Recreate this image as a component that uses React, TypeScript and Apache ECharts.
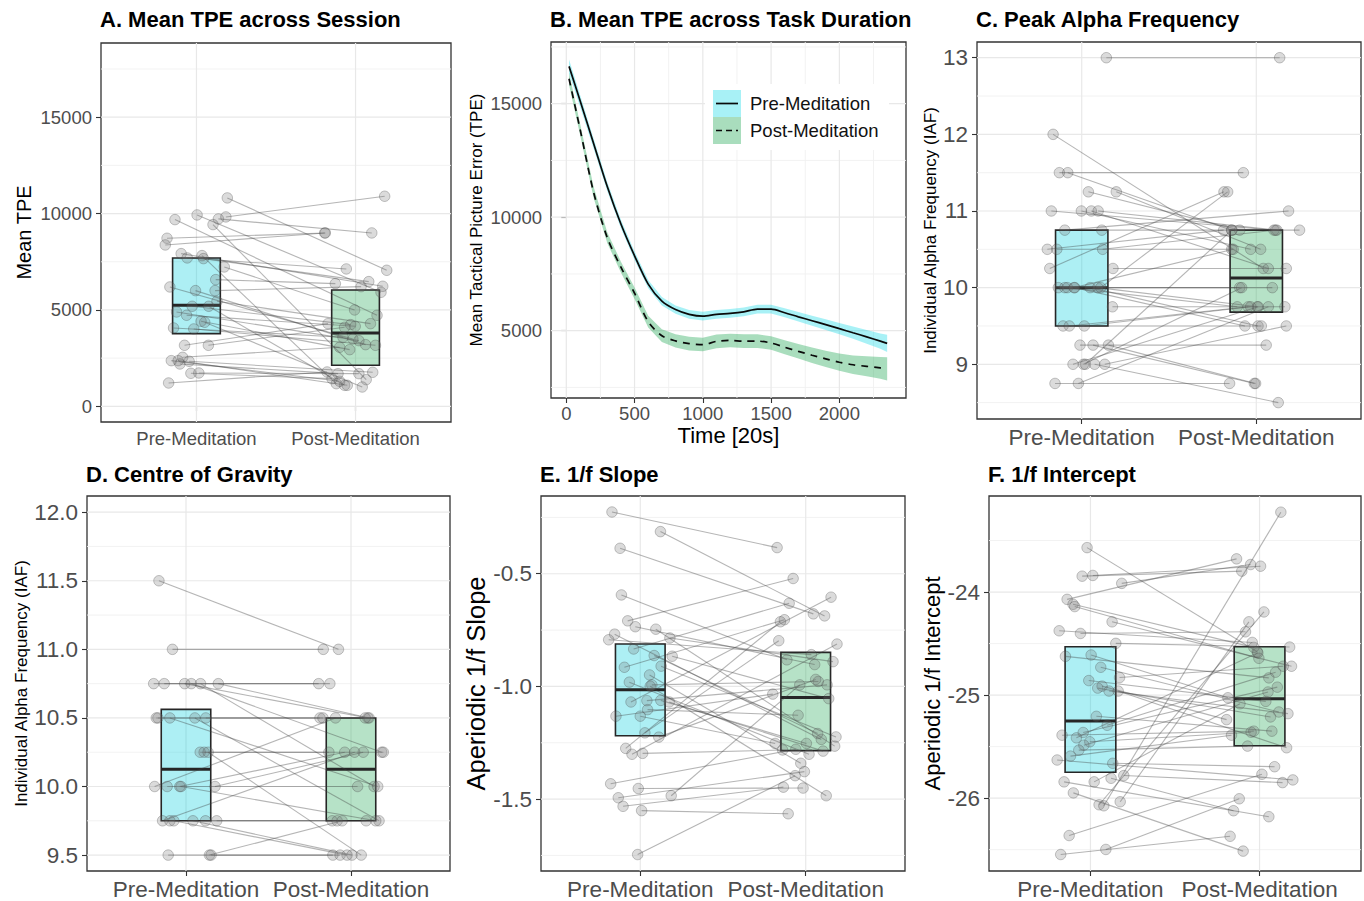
import React, { useEffect, useRef } from 'react';
import * as echarts from 'echarts';

// ---------- shared categories ----------
const SESSIONS = ['Pre-Meditation', 'Post-Meditation'];

// ---------- Panel A: Mean TPE across Session ----------
const aPre = [10813, 9688, 9930, 9723, 9826, 9429, 8719, 8373, 7923, 7699, 7820, 7664, 7231, 6574, 6193, 6003, 6003, 5190, 5190, 5450, 4896, 4723, 4412, 4360, 4066, 4014, 3166, 3166, 2370, 2543, 2370, 2197, 2336, 1713, 1730, 1211];
const aPreX = [1.194, 0.865, 1.004, 1.138, 1.185, 1.104, 0.815, 0.804, 0.904, 0.942, 1.035, 1.044, 1.175, 1.121, 0.833, 0.994, 1.117, 0.973, 1.077, 1.129, 0.875, 0.938, 1.029, 1.052, 0.856, 0.983, 0.925, 1.075, 0.842, 0.913, 0.885, 0.896, 0.954, 0.965, 1.015, 0.825];
const aPost = [7058, 4723, 5917, 8996, 10899, 1384, 8996, 8996, 6228, 7128, 1176, 6470, 5000, 6366, 3495, 3201, 6211, 4239, 1090, 4290, 3408, 4152, 2941, 1003, 3581, 3166, 4290, 4100, 1300, 3062, 1090, 1695, 1765, 1436, 1695, 1782];
const aPostX = [2.196, 2.135, 2.16, 2.102, 2.183, 2.067, 1.806, 1.81, 2.171, 1.942, 1.879, 2.083, 1.994, 1.873, 1.983, 2.063, 2.035, 1.969, 1.931, 2.094, 2.021, 1.998, 1.963, 2.042, 1.921, 2.125, 1.827, 1.931, 1.9, 1.9, 1.948, 1.89, 2.108, 1.852, 2.021, 1.821];
const aBoxPre = [3771, 5242, 7699]; // q1, median, q3
const aBoxPost = [2128, 3806, 6038];
const aTicks = [0, 5000, 10000, 15000];
const aMinor = [2500, 7500, 12500, 17500];

// ---------- Panel B: Mean TPE across Task Duration ----------
const timeB = [20, 100, 200, 300, 400, 500, 600, 700, 800, 900, 1000, 1100, 1200, 1300, 1400, 1500, 1600, 1700, 1800, 1900, 2000, 2100, 2200, 2300, 2350];
const preMeanB = [16644, 15150, 13250, 11350, 9700, 8300, 7050, 6300, 5930, 5720, 5640, 5720, 5760, 5830, 5950, 5950, 5790, 5610, 5440, 5270, 5090, 4910, 4730, 4540, 4440];
const preSEB = [300, 260, 220, 200, 190, 185, 185, 185, 185, 190, 195, 195, 195, 195, 195, 195, 200, 210, 220, 235, 250, 270, 300, 340, 380];
const postMeanB = [16100, 13900, 11100, 9100, 7800, 6650, 5400, 4780, 4550, 4430, 4390, 4530, 4570, 4540, 4540, 4460, 4270, 4090, 3920, 3760, 3610, 3500, 3430, 3360, 3320];
const postSEB = [260, 250, 240, 240, 240, 250, 260, 280, 290, 300, 300, 300, 300, 300, 300, 300, 310, 320, 340, 360, 380, 410, 440, 480, 510];
const bXTicks = [0, 500, 1000, 1500, 2000];
const bXMinor = [250, 750, 1250, 1750, 2250];
const bYTicks = [5000, 10000, 15000];
const bYMinor = [2500, 7500, 12500, 17500];

// ---------- Panel C: Peak Alpha Frequency ----------
const cPre = [13, 12, 11.5, 11.5, 11.25, 11.25, 11, 11, 11, 11, 10.75, 10.75, 10.5, 10.5, 10.5, 10.25, 10.25, 10, 10, 10, 10, 10, 10, 10, 10, 9.75, 9.5, 9.5, 9.5, 9.25, 9.25, 9.25, 9, 9, 9, 9, 9, 8.75, 8.75];
const cPreX = [1.141, 0.836, 0.872, 0.92, 1.038, 1.198, 0.826, 0.998, 1.055, 1.094, 0.903, 1.115, 0.803, 0.857, 1.12, 0.817, 1.179, 0.866, 0.903, 0.918, 0.96, 1.048, 1.092, 1.109, 0.956, 1.176, 0.893, 0.929, 1.015, 0.99, 1.065, 1.153, 0.95, 1.01, 1.021, 1.074, 1.132, 0.847, 0.981];
const cPost = [13, 10.25, 11.5, 10.75, 10.75, 10.5, 10.75, 10.5, 10.25, 10.75, 11, 10.75, 10.75, 10.5, 10.75, 11.25, 10.25, 10, 10, 9.75, 9.5, 9.5, 9.75, 11.25, 10.5, 9.75, 9.5, 9.75, 9.75, 9.25, 8.75, 8.75, 9.75, 10, 10.75, 8.5, 9.5, 8.75, 9.75];
const cPostX = [2.134, 2.04, 1.926, 1.859, 1.905, 2.025, 2.101, 1.968, 2.069, 2.118, 2.185, 2.248, 1.813, 1.859, 2.11, 1.815, 2.172, 1.905, 2.092, 1.891, 1.935, 2.01, 2.006, 1.836, 1.868, 2.164, 2.029, 1.954, 1.968, 2.057, 1.989, 1.996, 2.011, 1.916, 1.86, 2.126, 2.172, 1.847, 2.069];
const cBoxPre = [9.5, 10, 10.75];
const cBoxPost = [9.68, 10.125, 10.75];
const cTicks = [9, 10, 11, 12, 13];
const cMinor = [8.5, 9.5, 10.5, 11.5, 12.5];

// ---------- Panel D: Centre of Gravity ----------
const dPre = [11.5, 11, 10.75, 10.75, 10.75, 10.75, 10.75, 10.75, 10.5, 10.5, 10.5, 10.5, 10.5, 10.25, 10.25, 10.25, 10, 10, 10, 10, 10, 9.75, 9.75, 9.75, 9.75, 9.75, 9.75, 9.5, 9.5, 9.5];
const dPreX = [0.836, 0.918, 0.804, 0.868, 0.992, 1.032, 1.088, 1.196, 0.82, 0.83, 0.902, 1.054, 1.12, 1.086, 1.11, 1.134, 0.81, 0.886, 0.962, 0.97, 1.176, 0.858, 0.902, 0.926, 1.042, 1.118, 1.186, 0.892, 1.142, 1.152];
const dPost = [11, 11, 10.75, 10.75, 10.5, 10.25, 10, 10.5, 10.5, 10.5, 10, 9.75, 10.5, 10.25, 10.25, 9.5, 10.5, 10, 10.25, 9.75, 10.25, 10.25, 9.75, 9.5, 9.5, 9.75, 9.75, 9.5, 9.75, 9.5];
const dPostX = [1.924, 1.832, 1.804, 1.872, 2.102, 2.186, 2.14, 2.11, 1.812, 1.83, 2.162, 2.17, 2.086, 1.866, 2.196, 2.062, 1.906, 2.04, 1.962, 2.15, 2.074, 2.022, 1.886, 1.976, 2.006, 1.916, 2.092, 1.89, 1.946, 1.934];
const dBoxPre = [9.75, 10.125, 10.5625];
const dBoxPost = [9.75, 10.125, 10.5];
const dTicks = [9.5, 10, 10.5, 11, 11.5, 12];
const dMinor = [9.75, 10.25, 10.75, 11.25, 11.75];

// ---------- Panel E: 1/f Slope ----------
const ePre = [-0.226, -0.313, -0.387, -0.594, -0.709, -0.735, -0.746, -0.768, -0.793, -0.785, -0.834, -0.863, -0.866, -0.915, -0.91, -0.949, -0.981, -0.993, -0.999, -1.069, -1.063, -1.062, -1.069, -1.103, -1.132, -1.132, -1.206, -1.225, -1.275, -1.301, -1.297, -1.432, -1.453, -1.485, -1.494, -1.532, -1.551, -1.746];
const ePreX = [0.829, 1.122, 0.878, 0.886, 0.924, 0.97, 1.094, 0.845, 0.809, 1.179, 0.96, 1.084, 1.193, 0.904, 1.126, 1.056, 0.934, 1.07, 1.06, 0.944, 1.04, 1.124, 1.175, 1.044, 0.853, 1.0, 1.028, 1.112, 0.912, 0.95, 1.014, 0.821, 0.988, 1.187, 0.867, 0.896, 1.008, 0.984];
const ePost = [-0.384, -0.687, -0.678, -0.882, -0.521, -0.903, -1.265, -1.235, -0.859, -0.89, -0.631, -1.209, -1.054, -0.704, -1.224, -1.341, -1.301, -0.978, -1.485, -0.604, -0.993, -1.253, -1.287, -1.128, -1.034, -1.253, -0.797, -0.969, -0.713, -0.812, -1.282, -1.279, -1.451, -0.993, -1.378, -1.447, -1.565, -1.396];
const ePostX = [1.827, 2.114, 2.046, 1.886, 1.924, 2.054, 2.175, 2.094, 2.034, 2.165, 1.9, 2.072, 2.139, 1.871, 2.183, 1.97, 2.02, 2.076, 2.124, 2.153, 2.129, 2.004, 2.105, 1.954, 1.801, 1.815, 1.837, 2.06, 1.847, 2.189, 1.86, 1.94, 1.984, 1.964, 1.992, 1.865, 1.894, 1.936];
const eBoxPre = [-1.219, -1.015, -0.812];
const eBoxPost = [-1.285, -1.049, -0.849];
const eTicks = [-1.5, -1.0, -0.5];
const eMinor = [-1.75, -1.25, -0.75, -0.25];

// ---------- Panel F: 1/f Intercept ----------
const fPre = [-23.569, -23.846, -23.839, -23.916, -24.071, -24.119, -24.141, -24.289, -24.376, -24.402, -24.498, -24.624, -24.611, -24.73, -24.83, -24.859, -24.932, -24.913, -24.961, -24.961, -25.206, -25.293, -25.389, -25.363, -25.415, -25.453, -25.486, -25.534, -25.592, -25.63, -25.662, -25.781, -25.807, -25.842, -25.842, -25.949, -26.064, -26.074, -26.035, -26.363, -26.498, -26.547];
const fPreX = [0.98, 0.951, 1.014, 1.185, 0.862, 0.897, 0.907, 1.128, 0.815, 0.941, 1.15, 0.852, 1.004, 1.061, 1.172, 0.99, 1.043, 1.069, 1.11, 1.164, 1.035, 1.099, 0.832, 0.957, 0.917, 0.996, 0.961, 0.931, 0.882, 0.803, 1.132, 1.197, 1.122, 0.844, 1.022, 0.899, 1.051, 1.079, 1.176, 0.874, 1.091, 0.824];
const fPost = [-24.579, -23.797, -23.749, -23.733, -23.678, -24.537, -24.643, -24.72, -24.489, -24.386, -24.534, -24.833, -25.026, -25.164, -24.72, -25.061, -25.212, -25.238, -25.18, -25.511, -25.35, -24.778, -25.35, -24.923, -24.59, -25.36, -24.97, -25.495, -25.389, -25.823, -25.695, -25.849, -26.122, -26.18, -25.084, -26.514, -24.193, -23.225, -24.289, -25.768, -26.006, -26.37];
const fPostX = [1.986, 1.895, 2.006, 1.947, 1.864, 1.966, 1.996, 2.189, 1.957, 1.917, 2.178, 2.055, 1.813, 2.114, 2.14, 2.037, 2.065, 1.805, 2.168, 2.16, 2.073, 2.095, 1.966, 2.105, 1.99, 1.95, 2.05, 1.929, 1.834, 2.197, 2.089, 2.136, 1.846, 2.055, 1.884, 1.903, 2.026, 2.126, 1.937, 2.014, 1.88, 1.826];
const fBoxPre = [-25.749, -25.251, -24.531];
const fBoxPost = [-25.492, -25.035, -24.531];
const fTicks = [-26, -25, -24];
const fMinor = [-26.5, -25.5, -24.5, -23.5];

// ---------- styling ----------
const FONT = '"Liberation Sans", Arial, Helvetica, sans-serif';
const PRE_FILL = 'rgba(0,206,222,0.32)';
const POST_FILL = 'rgba(40,170,90,0.34)';
const PRE_BAND = 'rgba(0,215,228,0.34)';
const POST_BAND = 'rgba(40,170,90,0.40)';
const BOX_HALF = 0.15;

type BoxPanel = {
  title: string; grid: any; titleTop: number;
  yMin: number; yMax: number; ticks: number[]; minor: number[]; dec: number;
  yName: string; yNameSize: number; yNameGap: number; tickSize: number;
  pre: number[]; preX: number[]; post: number[]; postX: number[];
  boxPre: number[]; boxPost: number[]; gridIndex: number;
};

const boxPanels: BoxPanel[] = [
  { title: 'A. Mean TPE across Session', gridIndex: 0, grid: { left: 101, top: 43, width: 350, height: 379 }, titleTop: 8,
    yMin: -813, yMax: 18850, ticks: aTicks, minor: aMinor, dec: 0, yName: 'Mean TPE', yNameSize: 20, yNameGap: 67, tickSize: 18.5,
    pre: aPre, preX: aPreX, post: aPost, postX: aPostX, boxPre: aBoxPre, boxPost: aBoxPost },
  { title: 'C. Peak Alpha Frequency', gridIndex: 2, grid: { left: 977, top: 42, width: 384, height: 377 }, titleTop: 8,
    yMin: 8.286, yMax: 13.205, ticks: cTicks, minor: cMinor, dec: 0, yName: 'Individual Alpha Frequency (IAF)', yNameSize: 17, yNameGap: 37, tickSize: 22.5,
    pre: cPre, preX: cPreX, post: cPost, postX: cPostX, boxPre: cBoxPre, boxPost: cBoxPost },
  { title: 'D. Centre of Gravity', gridIndex: 3, grid: { left: 87, top: 496, width: 363, height: 377 }, titleTop: 463,
    yMin: 9.384, yMax: 12.118, ticks: dTicks, minor: dMinor, dec: 1, yName: 'Individual Alpha Frequency (IAF)', yNameSize: 17, yNameGap: 55, tickSize: 22.5,
    pre: dPre, preX: dPreX, post: dPost, postX: dPostX, boxPre: dBoxPre, boxPost: dBoxPost },
  { title: 'E. 1/f Slope', gridIndex: 4, grid: { left: 541, top: 496, width: 364, height: 377 }, titleTop: 463,
    yMin: -1.819, yMax: -0.155, ticks: eTicks, minor: eMinor, dec: 1, yName: 'Aperiodic 1/f Slope', yNameSize: 25.5, yNameGap: 50, tickSize: 22.5,
    pre: ePre, preX: ePreX, post: ePost, postX: ePostX, boxPre: eBoxPre, boxPost: eBoxPost },
  { title: 'F. 1/f Intercept', gridIndex: 5, grid: { left: 989, top: 496, width: 372, height: 377 }, titleTop: 463,
    yMin: -26.707, yMax: -23.068, ticks: fTicks, minor: fMinor, dec: 0, yName: 'Aperiodic 1/f Intercept', yNameSize: 22, yNameGap: 46, tickSize: 22.5,
    pre: fPre, preX: fPreX, post: fPost, postX: fPostX, boxPre: fBoxPre, boxPost: fBoxPost },
];

const tickStyle = (vals: number[]) => ({ show: true, length: 5, inside: false, customValues: vals, lineStyle: { color: '#333', width: 1.1 } });
const labelStyle = (vals: number[], size: number, margin: number, fmt: (v: number) => string) => ({
  show: true, customValues: vals, color: '#4D4D4D', fontSize: size, fontFamily: FONT, margin, formatter: fmt,
});

function gridLineSeries(gi: number, hMajor: number[], hMinor: number[], vMajor: number[], vMinor: number[], xRef: number, yRef: number) {
  const data = [
    ...hMinor.map((v) => [0, v, 0]),
    ...vMinor.map((v) => [1, v, 0]),
    ...hMajor.map((v) => [0, v, 1]),
    ...vMajor.map((v) => [1, v, 1]),
  ];
  return {
    type: 'custom', xAxisIndex: gi, yAxisIndex: gi, z: 1, silent: true, data,
    renderItem: (params: any, api: any) => {
      const o = api.value(0), v = api.value(1), maj = api.value(2);
      const cs = params.coordSys;
      const style = { stroke: maj ? '#E8E8E8' : '#F1F1F1', lineWidth: maj ? 1.2 : 0.9 };
      if (o === 0) {
        const y = api.coord([xRef, v])[1];
        return { type: 'line', shape: { x1: cs.x, y1: y, x2: cs.x + cs.width, y2: y }, style };
      }
      const x = api.coord([v, yRef])[0];
      return { type: 'line', shape: { x1: x, y1: cs.y, x2: x, y2: cs.y + cs.height }, style };
    },
  };
}

function bandSeries(mean: number[], se: number[], color: string) {
  const rows = timeB.map((t, k) => [t, mean[k] - se[k], mean[k] + se[k]]);
  return {
    type: 'custom', xAxisIndex: 1, yAxisIndex: 1, z: 2, silent: true,
    data: rows, encode: { x: 0, y: [1, 2] },
    renderItem: (params: any, api: any) => {
      if (params.dataIndex !== 0) return null;
      const upper = rows.map((r) => api.coord([r[0], r[2]]));
      const lower = rows.map((r) => api.coord([r[0], r[1]])).reverse();
      return { type: 'polygon', shape: { points: [...upper, ...lower] }, style: { fill: color } };
    },
  };
}

function buildOption() {
  const grids: any[] = new Array(6);
  const xAxes: any[] = new Array(6);
  const yAxes: any[] = new Array(6);
  const titles: any[] = [];
  const series: any[] = [];

  boxPanels.forEach((p) => {
    const gi = p.gridIndex;
    grids[gi] = { ...p.grid, show: true, borderColor: '#333', borderWidth: 1.3, backgroundColor: '#fff' };
    titles.push({ text: p.title, left: p.grid.left - 1, top: p.titleTop, padding: 0,
      textStyle: { fontSize: 22, fontWeight: 'bold', color: '#000', fontFamily: FONT } });
    xAxes[gi] = {
      gridIndex: gi, type: 'value', min: 0.4, max: 2.6,
      axisLine: { show: false }, splitLine: { show: false },
      axisTick: tickStyle([1, 2]),
      axisLabel: labelStyle([1, 2], p.tickSize, 7, (v: number) => SESSIONS[Math.round(v) - 1] || ''),
    };
    yAxes[gi] = {
      gridIndex: gi, type: 'value', min: p.yMin, max: p.yMax,
      name: p.yName, nameLocation: 'middle', nameGap: p.yNameGap,
      nameTextStyle: { fontSize: p.yNameSize, color: '#000', fontFamily: FONT },
      axisLine: { show: false }, splitLine: { show: false },
      axisTick: tickStyle(p.ticks),
      axisLabel: labelStyle(p.ticks, p.tickSize, 9, (v: number) => v.toFixed(p.dec)),
    };
    series.push(gridLineSeries(gi, p.ticks, p.minor, [1, 2], [], 1, p.ticks[0]));
    series.push({
      type: 'custom', xAxisIndex: gi, yAxisIndex: gi, z: 2, silent: true,
      data: [[1, ...p.boxPre], [2, ...p.boxPost]],
      renderItem: (params: any, api: any) => {
        const c = api.value(0), q1 = api.value(1), m = api.value(2), q3 = api.value(3);
        const tl = api.coord([c - BOX_HALF, q3]);
        const br = api.coord([c + BOX_HALF, q1]);
        const ml = api.coord([c - BOX_HALF, m]);
        const mr = api.coord([c + BOX_HALF, m]);
        return {
          type: 'group',
          children: [
            { type: 'rect', shape: { x: tl[0], y: tl[1], width: br[0] - tl[0], height: br[1] - tl[1] },
              style: { fill: params.dataIndex === 0 ? PRE_FILL : POST_FILL, stroke: '#262626', lineWidth: 1.6 } },
            { type: 'line', shape: { x1: ml[0], y1: ml[1], x2: mr[0], y2: mr[1] },
              style: { stroke: '#262626', lineWidth: 3 } },
          ],
        };
      },
    });
    series.push({
      type: 'custom', xAxisIndex: gi, yAxisIndex: gi, z: 3, silent: true,
      data: p.pre.map((v, k) => [p.preX[k], v, p.postX[k], p.post[k]]),
      encode: { x: [0, 2], y: [1, 3] },
      renderItem: (params: any, api: any) => {
        const a = api.coord([api.value(0), api.value(1)]);
        const b = api.coord([api.value(2), api.value(3)]);
        return { type: 'line', shape: { x1: a[0], y1: a[1], x2: b[0], y2: b[1] },
          style: { stroke: 'rgba(60,60,60,0.38)', lineWidth: 1.1 } };
      },
    });
    series.push({
      type: 'scatter', xAxisIndex: gi, yAxisIndex: gi, z: 4, silent: true, symbolSize: 10.5,
      data: [...p.pre.map((v, k) => [p.preX[k], v]), ...p.post.map((v, k) => [p.postX[k], v])],
      itemStyle: { color: 'rgba(115,115,115,0.32)', borderColor: 'rgba(70,70,70,0.38)', borderWidth: 1 },
    });
  });

  // Panel B
  const gB = { left: 551, top: 42, width: 355, height: 356 };
  grids[1] = { ...gB, show: true, borderColor: '#333', borderWidth: 1.3, backgroundColor: '#fff' };
  titles.push({ text: 'B. Mean TPE across Task Duration', left: 550, top: 8, padding: 0,
    textStyle: { fontSize: 22, fontWeight: 'bold', color: '#000', fontFamily: FONT } });
  xAxes[1] = {
    gridIndex: 1, type: 'value', min: -112, max: 2488,
    name: 'Time [20s]', nameLocation: 'middle', nameGap: 26,
    nameTextStyle: { fontSize: 22, color: '#000', fontFamily: FONT },
    axisLine: { show: false }, splitLine: { show: false },
    axisTick: tickStyle(bXTicks),
    axisLabel: labelStyle(bXTicks, 18.5, 6, (v: number) => String(v)),
  };
  yAxes[1] = {
    gridIndex: 1, type: 'value', min: 2035, max: 17718,
    name: 'Mean Tactical Picture Error (TPE)', nameLocation: 'middle', nameGap: 66,
    nameTextStyle: { fontSize: 17, color: '#000', fontFamily: FONT },
    axisLine: { show: false }, splitLine: { show: false },
    axisTick: tickStyle(bYTicks),
    axisLabel: labelStyle(bYTicks, 18.5, 9, (v: number) => String(v)),
  };
  series.push(gridLineSeries(1, bYTicks, bYMinor, bXTicks, bXMinor, 0, 5000));
  series.push(bandSeries(preMeanB, preSEB, PRE_BAND));
  series.push(bandSeries(postMeanB, postSEB, POST_BAND));
  const smooth = 0.3;
  series.push({ type: 'line', name: SESSIONS[0], xAxisIndex: 1, yAxisIndex: 1, z: 5, silent: true, symbol: 'none', smooth,
    data: timeB.map((t, k) => [t, preMeanB[k]]), lineStyle: { color: '#0A0A0A', width: 1.7 } });
  series.push({ type: 'line', name: SESSIONS[1], xAxisIndex: 1, yAxisIndex: 1, z: 5, silent: true, symbol: 'none', smooth,
    data: timeB.map((t, k) => [t, postMeanB[k]]), lineStyle: { color: '#0A0A0A', width: 1.7, type: [7, 6] } });

  const Z = 100;
  const legendGraphic = {
    type: 'group', left: 705, top: 84, z: Z,
    children: [
      { type: 'rect', z: Z, shape: { x: 0, y: 0, width: 184, height: 66 }, style: { fill: '#fff' } },
      { type: 'rect', z: Z + 1, shape: { x: 8, y: 6, width: 28, height: 27 }, style: { fill: PRE_BAND } },
      { type: 'line', z: Z + 2, shape: { x1: 11, y1: 19.5, x2: 33, y2: 19.5 }, style: { stroke: '#0A0A0A', lineWidth: 1.7 } },
      { type: 'rect', z: Z + 1, shape: { x: 8, y: 33, width: 28, height: 27 }, style: { fill: POST_BAND } },
      { type: 'line', z: Z + 2, shape: { x1: 11, y1: 46.5, x2: 33, y2: 46.5 }, style: { stroke: '#0A0A0A', lineWidth: 1.7, lineDash: [6, 4] } },
      { type: 'text', z: Z + 2, x: 45, y: 19.5, style: { text: SESSIONS[0], fontSize: 18.5, fontFamily: FONT, fill: '#111', verticalAlign: 'middle' } },
      { type: 'text', z: Z + 2, x: 45, y: 46.5, style: { text: SESSIONS[1], fontSize: 18.5, fontFamily: FONT, fill: '#111', verticalAlign: 'middle' } },
    ],
  };

  return {
    animation: false,
    backgroundColor: '#fff',
    textStyle: { fontFamily: FONT },
    title: titles,
    grid: grids,
    xAxis: xAxes,
    yAxis: yAxes,
    series,
    graphic: [legendGraphic],
  };
}

export default function App() {
  const ref = useRef<HTMLDivElement>(null);
  useEffect(() => {
    if (!ref.current) return;
    const chart = echarts.init(ref.current, null, { renderer: 'svg' });
    chart.setOption(buildOption() as any);
    return () => chart.dispose();
  }, []);
  return (
    <div
      ref={ref}
      style={{ position: 'fixed', left: 0, top: 0, width: 1364, height: 901, background: '#fff' }}
    />
  );
}
